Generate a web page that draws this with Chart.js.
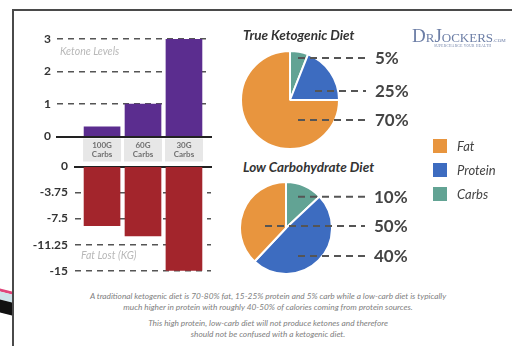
<!DOCTYPE html>
<html>
<head>
<meta charset="utf-8">
<script src="https://cdn.jsdelivr.net/npm/chart.js@4.4.0/dist/chart.umd.min.js"></script>
<style>
  body { margin: 0; width: 512px; height: 346px; background: #fff; overflow: hidden; position: relative; font-family: Lato, "Open Sans", sans-serif; }
  .abs { position: absolute; }
  .frame { left: 12px; top: 9px; width: 500px; height: 337px; border-left: 2px solid #4a4a4a; border-top: 2px solid #4a4a4a; }
  .note { font-style: italic; font-size: 10.5px; color: #b8b8b8; white-space: nowrap; }
  .title { font-style: italic; font-weight: 700; font-size: 13.5px; color: #333; white-space: nowrap; }
  .legend div { position: absolute; left: 0; height: 14px; }
  .legend span.sw { position: absolute; left: 0; top: 0; width: 14px; height: 14px; }
  .legend span.tx { position: absolute; left: 24px; top: -1px; font-style: italic; font-size: 13px; color: #444; white-space: nowrap; }
  .logo { left: 412px; top: 25px; color: #6c7ea6; font-family: "Liberation Serif", serif; white-space: nowrap; }
  .footer { left: 40px; width: 456px; text-align: center; font-style: italic; font-size: 8.3px; color: #808080; line-height: 10.5px; }
  canvas { position: absolute; }
</style>
</head>
<body>
<div class="abs" style="left:0;top:290px;width:12px;height:3px;background:#e0457a;transform:skewY(14deg);"></div>
<div class="abs" style="left:0;top:293px;width:12px;height:8px;background:#cfe3ea;transform:skewY(14deg);"></div>
<div class="abs" style="left:0;top:301px;width:12px;height:13px;background:#111;transform:skewY(14deg);"></div>
<div class="abs frame"></div>

<canvas id="ketoneChart" width="220" height="170" style="left:0;top:0;"></canvas>
<canvas id="fatChart" width="220" height="135" style="left:0;top:150px;"></canvas>
<canvas id="ketoPie" width="190" height="100" style="left:240px;top:50px;"></canvas>
<canvas id="lowCarbPie" width="190" height="94" style="left:239px;top:181px;"></canvas>

<div class="abs note" style="left:60px;top:45px;">Ketone Levels</div>
<div class="abs note" style="left:81px;top:249px;">Fat Lost (KG)</div>
<div class="abs title" style="left:243px;top:27px;">True Ketogenic Diet</div>
<div class="abs title" style="left:243px;top:159px;">Low Carbohydrate Diet</div>

<div class="abs logo">
  <span style="font-size:19px;">D</span><span style="font-size:13px;">R</span><span style="font-size:19px;">J</span><span style="font-size:13px;">OCKERS</span><span style="font-size:5px;">.COM</span>
  <div style="position:absolute;left:22px;top:19px;font-size:3.5px;letter-spacing:0.3px;">SUPERCHARGE YOUR HEALTH</div>
</div>

<div class="abs legend" id="legend" style="left:433px;top:139px;"></div>

<div class="abs footer" style="top:291px;">A traditional ketogenic diet is 70-80% fat, 15-25% protein and 5% carb while a low-carb diet is typically<br>much higher in protein with roughly 40-50% of calories coming from protein sources.</div>
<div class="abs footer" style="top:318px;">This high protein, low-carb diet will not produce ketones and therefore<br>should not be confused with a ketogenic diet.</div>

<script>
// Bar data
const carbGroups = [['100G', 'Carbs'], ['60G', 'Carbs'], ['30G', 'Carbs']];
const ketoneLevels = [0.3, 1.0, 3.0];
const fatLost = [-8.5, -10, -15];
const ketoneTicks = [0, 1, 2, 3];
const fatTicks = [0, -3.75, -7.5, -11.25, -15];

// Pie data (clockwise from the top)
const macros = ['Carbs', 'Protein', 'Fat'];
const macroColors = ['#62a394', '#3d6cc0', '#e8953e'];
const ketoShares = [6, 19, 75];
const ketoLabels = ['5%', '25%', '70%'];
const lowCarbShares = [13, 49, 38];
const lowCarbLabels = ['10%', '50%', '40%'];

const tickFont = { family: 'Lato', size: 12, weight: 'bold' };
const groupTicks = carbGroups.map((g, i) => ({ value: i + 1 }));

// grey boxes behind the carb labels
const labelBoxes = {
    id: 'labelBoxes',
    beforeDraw(chart) {
        const { ctx, chartArea, scales } = chart;
        ctx.save();
        ctx.fillStyle = '#e7e7e7';
        carbGroups.forEach((g, i) => {
            const cx = scales.x.getPixelForValue(i + 1);
            ctx.fillRect(cx - 19, chartArea.bottom + 2, 38, 23);
        });
        ctx.restore();
    }
};

function gridColor(ctx) {
    return ctx.tick && ctx.tick.value === 0 ? 'rgba(0,0,0,0)' : '#555';
}

new Chart(document.getElementById('ketoneChart'), {
    type: 'bar',
    data: {
        datasets: [{
            data: ketoneLevels.map((v, i) => ({ x: i + 1, y: v })),
            backgroundColor: '#5b2d8f',
            barThickness: 36
        }]
    },
    options: {
        responsive: false,
        animation: false,
        layout: { padding: { left: 0, right: 9, top: 39, bottom: 0 } },
        plugins: { legend: { display: false }, tooltip: { enabled: false } },
        scales: {
            x: {
                type: 'linear',
                offset: false,
                min: -0.1,
                max: 3.66,
                z: 1,
                afterFit: s => { s.height = 33.5; },
                afterBuildTicks: s => { s.ticks = groupTicks.map(t => ({ value: t.value })); },
                grid: { display: false, drawTicks: false, offset: false },
                border: { display: true, color: '#222', width: 2 },
                ticks: {
                    autoSkip: false,
                    maxRotation: 0,
                    padding: 4,
                    color: '#707070',
                    font: { family: 'Lato', size: 8, weight: 'bold' },
                    callback: v => carbGroups[Math.round(v) - 1]
                }
            },
            y: {
                min: 0,
                max: 3,
                afterFit: s => { s.width = 57; },
                afterBuildTicks: s => { s.ticks = ketoneTicks.map(v => ({ value: v })); },
                grid: { color: gridColor, lineWidth: 1.6, drawTicks: false },
                border: { display: false, dash: [6, 5] },
                ticks: { padding: 6, color: '#333', font: tickFont, callback: v => String(v) }
            }
        }
    },
    plugins: [labelBoxes]
});

new Chart(document.getElementById('fatChart'), {
    type: 'bar',
    data: {
        datasets: [{
            data: fatLost.map((v, i) => ({ x: i + 1, y: v })),
            backgroundColor: '#a3252c',
            barThickness: 36
        }]
    },
    options: {
        responsive: false,
        animation: false,
        layout: { padding: { left: 0, right: 9, top: 16.5, bottom: 14.3 } },
        plugins: { legend: { display: false }, tooltip: { enabled: false } },
        scales: {
            x: {
                type: 'linear',
                position: 'top',
                offset: false,
                min: 0.34,
                max: 3.66,
                z: 1,
                afterFit: s => { s.height = 0; },
                afterBuildTicks: s => { s.ticks = groupTicks.map(t => ({ value: t.value })); },
                grid: { display: false, drawTicks: false, offset: false },
                border: { display: true, color: '#222', width: 2 },
                ticks: { display: false }
            },
            y: {
                min: -15,
                max: 0,
                afterFit: s => { s.width = 75; },
                afterBuildTicks: s => { s.ticks = fatTicks.map(v => ({ value: v })); },
                grid: { color: gridColor, lineWidth: 1.6, drawTicks: false },
                border: { display: false, dash: [6, 5] },
                ticks: { padding: 7, color: '#333', font: tickFont, callback: v => String(v) }
            }
        }
    }
});

// dashed leader lines and percentage labels next to each pie
function leaderPlugin(labels, starts, rows) {
    return {
        id: 'leaders',
        afterDraw(chart) {
            const ctx = chart.ctx;
            const area = chart.chartArea;
            ctx.save();
            ctx.strokeStyle = '#555';
            ctx.lineWidth = 2;
            ctx.setLineDash([7, 5]);
            ctx.fillStyle = '#444';
            ctx.font = 'bold 17px Lato';
            ctx.textBaseline = 'middle';
            labels.forEach((t, i) => {
                const y = area.top + rows[i];
                ctx.beginPath();
                ctx.moveTo(area.left + starts[i], y);
                ctx.lineTo(area.left + 126, y);
                ctx.stroke();
                ctx.fillText(t, area.left + 135, y + 1);
            });
            ctx.restore();
        }
    };
}

function makePie(id, shares, labels, starts, rows, padRight) {
    new Chart(document.getElementById(id), {
        type: 'pie',
        data: {
            labels: macros,
            datasets: [{
                data: shares,
                backgroundColor: macroColors,
                borderColor: '#fff',
                borderWidth: 2
            }]
        },
        options: {
            responsive: false,
            animation: false,
            layout: { padding: { right: padRight } },
            plugins: { legend: { display: false }, tooltip: { enabled: false } }
        },
        plugins: [leaderPlugin(labels, starts, rows)]
    });
}

makePie('ketoPie', ketoShares, ketoLabels, [58, 75, 58], [8, 41, 70], 90);
makePie('lowCarbPie', lowCarbShares, lowCarbLabels, [59, 26, 59], [15.7, 45, 75], 96);

// legend (Fat, Protein, Carbs)
const legend = document.getElementById('legend');
macros.slice().reverse().forEach((name, i) => {
    const row = document.createElement('div');
    row.style.top = (i * 24) + 'px';
    const color = macroColors[macros.indexOf(name)];
    row.innerHTML = `<span class="sw" style="background:${color}"></span><span class="tx">${name}</span>`;
    legend.appendChild(row);
});
</script>
</body>
</html>
